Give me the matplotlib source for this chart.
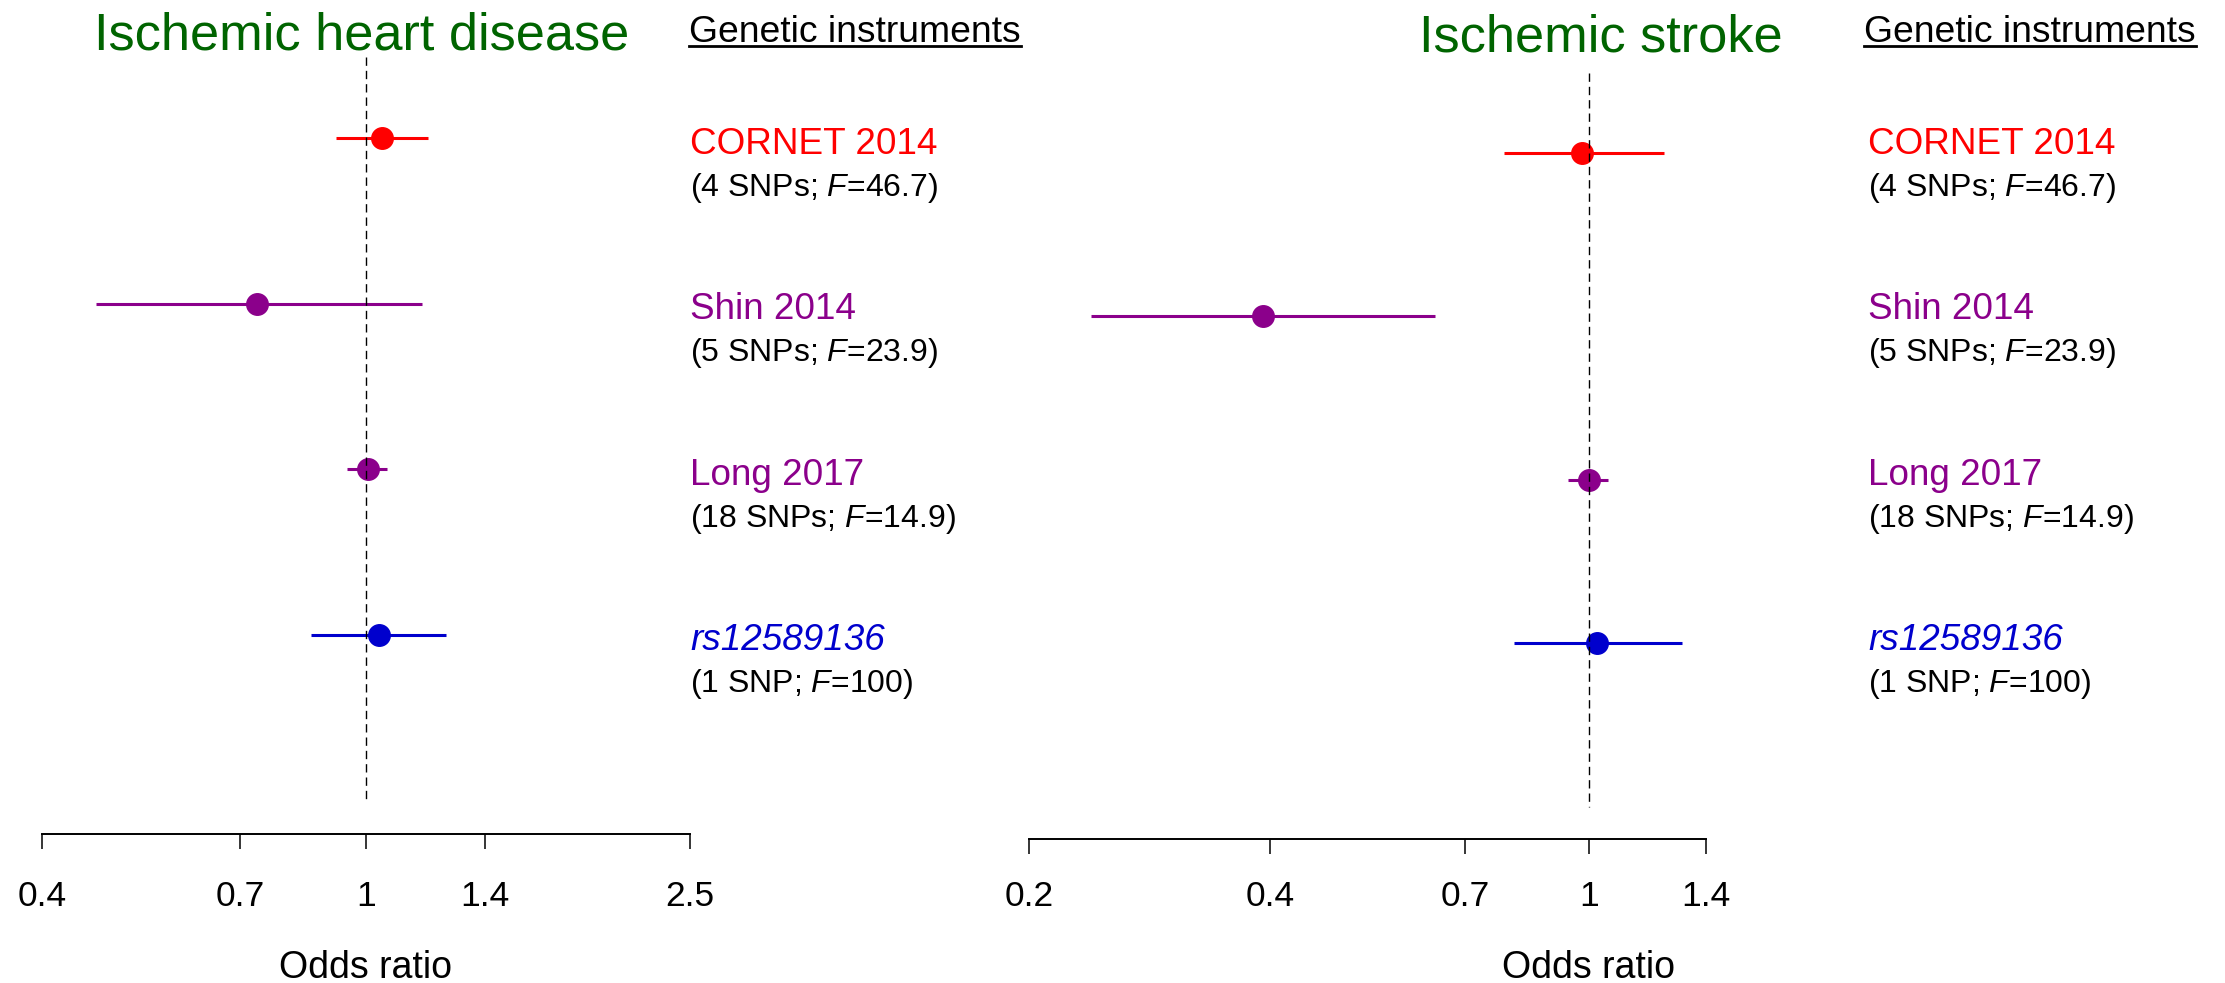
import matplotlib
matplotlib.use("Agg")
import matplotlib.pyplot as plt
from matplotlib import transforms as mtrans
from matplotlib.ticker import FixedLocator, FixedFormatter, NullLocator
from matplotlib.lines import Line2D

# ---------------- data ----------------
instruments = ["CORNET 2014", "Shin 2014", "Long 2017", "rs12589136"]
snp_counts = ["4 SNPs", "5 SNPs", "18 SNPs", "1 SNP"]
f_stats = ["46.7", "23.9", "14.9", "100"]
colors = ["#FF0000", "#8B008B", "#8B008B", "#0000CD"]

ihd_or = [1.046, 0.736, 1.007, 1.038]
ihd_lo = [0.920, 0.466, 0.947, 0.856]
ihd_hi = [1.193, 1.172, 1.061, 1.255]
ihd_ticks = [0.4, 0.7, 1, 1.4, 2.5]
ihd_ticklabels = ["0.4", "0.7", "1", "1.4", "2.5"]

stroke_or = [0.981, 0.392, 1.000, 1.024]
stroke_lo = [0.784, 0.239, 0.941, 0.806]
stroke_hi = [1.242, 0.642, 1.056, 1.306]
stroke_ticks = [0.2, 0.4, 0.7, 1, 1.4]
stroke_ticklabels = ["0.2", "0.4", "0.7", "1", "1.4"]

titles = ["Ischemic heart disease", "Ischemic stroke"]

# ---------------- style ----------------
plt.rcParams["font.family"] = ["Liberation Sans", "DejaVu Sans"]
plt.rcParams["mathtext.fontset"] = "custom"
plt.rcParams["mathtext.rm"] = "Liberation Sans"
plt.rcParams["mathtext.it"] = "Liberation Sans:italic"

W, H = 2225, 983
fig = plt.figure(figsize=(W / 100, H / 100), dpi=100)


def px_axes(x0, x1, ytop, ybot):
    return fig.add_axes([x0 / W, 1 - ybot / H, (x1 - x0) / W, (ybot - ytop) / H])


rows = list(range(len(instruments)))
YLIM = (4.203, -0.49)


def panel(ax, orv, lo, hi, ticks, tlabels, pad):
    ax.set_xscale("log")
    ax.set_xlim(ticks[0], ticks[-1])
    ax.set_ylim(*YLIM)
    for s in ["top", "right", "left"]:
        ax.spines[s].set_visible(False)
    ax.spines["bottom"].set_linewidth(1.4)
    ax.yaxis.set_visible(False)
    ax.xaxis.set_major_locator(FixedLocator(ticks))
    ax.xaxis.set_major_formatter(FixedFormatter(tlabels))
    ax.xaxis.set_minor_locator(NullLocator())
    ax.tick_params(axis="x", direction="out", length=10.8, width=1.1,
                   pad=pad, labelsize=25.5)
    ax.patch.set_visible(False)
    ax.plot([1, 1], [YLIM[1], 4.008], ls=(0, (6, 3.6)), color="black",
            lw=1.0, zorder=5)
    for r, o, l, h, c in zip(rows, orv, lo, hi, colors):
        ax.plot([l, h], [r, r], color=c, lw=2.2, solid_capstyle="butt", zorder=3)
        ax.plot([o], [r], marker="o", ms=15.5, color=c, mec=c, zorder=4)
    tr = mtrans.blended_transform_factory(ax.transData, fig.transFigure)
    ax.text(1, (H - 978) / H, "Odds ratio", transform=tr, ha="center",
            va="baseline", fontsize=27)


axL = px_axes(42, 689.6, 57, 834)
axR = px_axes(1029, 1706, 73, 839.3)
panel(axL, ihd_or, ihd_lo, ihd_hi, ihd_ticks, ihd_ticklabels, 22.3)
panel(axR, stroke_or, stroke_lo, stroke_hi, stroke_ticks, stroke_ticklabels, 18.7)

# titles
for t, cx, base in zip(titles, [362, 1601], [50, 52]):
    fig.text(cx / W, 1 - base / H, t, ha="center", va="baseline",
             fontsize=37.7, color="#006400")

# headers
headers = []
for hx in [689, 1864]:
    headers.append(fig.text(hx / W, 1 - 42 / H, "Genetic instruments",
                            ha="left", va="baseline", fontsize=26.8, color="black"))

# instrument labels (aligned on left panel rows)
base_tr = mtrans.blended_transform_factory(fig.transFigure, axL.transData)
name_tr = mtrans.offset_copy(base_tr, fig=fig, y=-15.5 * 0.72, units="points")
sub_tr = mtrans.offset_copy(base_tr, fig=fig, y=-57.5 * 0.72, units="points")
for lx in [690.5, 1868]:
    for r, name, snp, f, c in zip(rows, instruments, snp_counts, f_stats, colors):
        style = "italic" if name.startswith("rs") else "normal"
        fig.text(lx / W, r, name, transform=name_tr, ha="left", va="baseline",
                 fontsize=26.6, color=c, fontstyle=style)
        fig.text(lx / W, r, "(" + snp + "; $\\mathit{F}$=" + f + ")",
                 transform=sub_tr, ha="left", va="baseline", fontsize=23,
                 color="black")

# underline headers
fig.canvas.draw()
renderer = fig.canvas.get_renderer()
for t in headers:
    bb = t.get_window_extent(renderer)
    y = 1 - 46 / H
    fig.add_artist(Line2D([bb.x0 / W, bb.x1 / W], [y, y], transform=fig.transFigure,
                          color="black", lw=2.0))

fig.savefig("out.png", dpi=100)
